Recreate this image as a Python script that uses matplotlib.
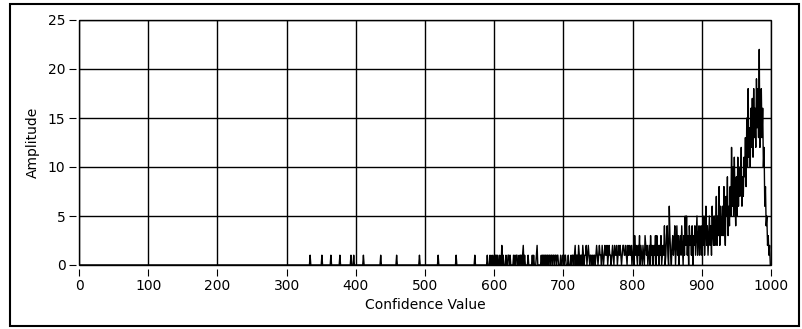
import numpy as np
import matplotlib.pyplot as plt
from matplotlib.patches import Rectangle

plt.rcParams['font.family'] = ['DejaVu Sans']

# isolated hits below 600 (all count 1)
sparse_x = [334, 351, 364, 377, 393, 397, 411, 436, 459, 492, 519, 545, 572, 590, 594, 597]
sparse_y = [1, 1, 1, 1, 1, 1, 1, 1, 1, 1, 1, 1, 1, 1, 1, 1]

counts_600 = [1, 0, 1, 1, 0, 1, 0, 0, 1, 0,
              0, 2, 0, 1, 0, 0, 0, 1, 0, 0,
              1, 1, 0, 1, 0, 0, 0, 0, 1, 0,
              1, 0, 1, 1, 0, 0, 1, 0, 1, 1,
              0, 1, 2, 0, 1, 0, 0, 0, 0, 1,
              0, 0, 0, 0, 0, 1, 0, 1, 0, 0,
              0, 1, 2, 0, 0, 0, 0, 0, 1, 0,
              1, 1, 0, 1, 1, 0, 1, 1, 0, 1,
              1, 0, 1, 1, 0, 1, 1, 0, 1, 1,
              0, 1, 1, 0, 0, 0, 1, 0, 0, 1]

counts_700 = [1, 0, 1, 1, 0, 0, 0, 1, 0, 0,
              0, 1, 0, 1, 1, 0, 1, 2, 0, 1,
              1, 0, 2, 1, 0, 1, 1, 0, 2, 1,
              0, 1, 1, 2, 0, 1, 2, 1, 0, 1,
              1, 0, 1, 0, 1, 1, 0, 1, 2, 1,
              0, 1, 2, 1, 1, 0, 2, 1, 0, 1,
              2, 1, 1, 2, 0, 1, 2, 1, 1, 0,
              1, 2, 1, 0, 2, 1, 1, 2, 0, 1,
              2, 1, 2, 1, 0, 1, 2, 2, 1, 1,
              2, 1, 0, 2, 1, 2, 1, 1, 2, 0]

counts_800 = [1, 2, 0, 3, 1, 2, 1, 0, 2, 1,
              3, 0, 2, 1, 0, 2, 1, 0, 3, 2,
              1, 2, 0, 1, 2, 0, 3, 1, 2, 0,
              0, 2, 1, 3, 0, 3, 1, 2, 0, 2,
              1, 3, 0, 1, 2, 1, 4, 0, 1, 3,
              4, 1, 0, 6, 3, 1, 0, 2, 3, 1,
              2, 4, 0, 2, 4, 1, 3, 0, 2, 3,
              1, 4, 2, 0, 3, 1, 5, 2, 5, 1,
              3, 0, 4, 2, 3, 1, 4, 0, 3, 2,
              4, 1, 3, 5, 1, 3, 4, 1, 3, 4]

counts_900 = [1, 4, 2, 5, 1, 3, 6, 2, 4, 1,
              3, 5, 2, 4, 1, 6, 3, 2, 5, 2,
              4, 7, 2, 5, 3, 8, 2, 6, 4, 3,
              6, 3, 8, 4, 2, 7, 5, 9, 3, 6,
              4, 8, 5, 12, 6, 10, 5, 11, 7, 4,
              9, 5, 11, 6, 10, 7, 8, 12, 6, 9,
              7, 11, 9, 13, 8, 15, 10, 18, 11, 14,
              10, 16, 12, 17, 11, 18, 13, 16, 12, 19,
              14, 18, 13, 22, 12, 17, 18, 13, 16, 10,
              12, 6, 8, 4, 5, 2, 3, 1, 2, 0,
              0]

confidence = np.arange(0, 1001)
amplitude = np.zeros(len(confidence))
amplitude[sparse_x] = sparse_y
amplitude[600:700] = counts_600
amplitude[700:800] = counts_700
amplitude[800:900] = counts_800
amplitude[900:1001] = counts_900

fig = plt.figure(figsize=(8.02, 3.29), dpi=100)
fig.patches.append(Rectangle((9.5 / 802, 3.5 / 329), 789 / 802, 322 / 329,
                             transform=fig.transFigure, fill=False,
                             ec='black', lw=1.5))

ax = fig.add_axes([79 / 802, 1 - 265 / 329, 692 / 802, 245 / 329])
ax.plot(confidence, amplitude, color='black', lw=1.0)
ax.set_xlim(0, 1000)
ax.set_ylim(0, 25)
ax.set_xticks(range(0, 1001, 100))
ax.set_yticks(range(0, 26, 5))
ax.grid(True, color='black', lw=1.0)

for s in ['top', 'right']:
    ax.spines[s].set_visible(False)
ax.spines['bottom'].set_position(('outward', 2.9))
ax.spines['left'].set_position(('outward', 2.2))
ax.spines['bottom'].set_visible(False)
ax.spines['left'].set_visible(False)
ax.add_patch(Rectangle((0, 0), 1, 1, transform=ax.transAxes, fill=False,
                       ec='black', lw=1.0, clip_on=False))

ax.tick_params(direction='out', length=5, width=0.8, labelsize=10, pad=2.5)
ax.set_xlabel('Confidence Value', fontsize=10, labelpad=3)
ax.set_ylabel('Amplitude', fontsize=10, labelpad=6)

fig.savefig('out.png', dpi=100)
